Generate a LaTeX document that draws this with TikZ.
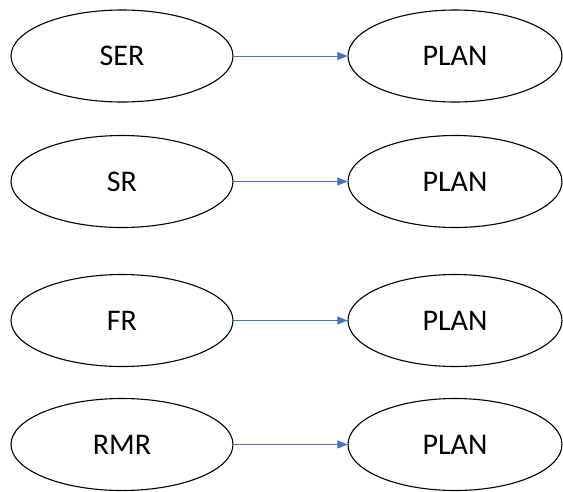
\documentclass[tikz,border=0pt]{standalone}
\usepackage{fontspec}
\setmainfont{Carlito}
\usetikzlibrary{shapes.geometric,arrows.meta}
\definecolor{linkblue}{RGB}{68,114,196}
\tikzset{
  src/.style={ellipse, draw=black, line width=1.1pt, minimum width=222pt, minimum height=92pt, inner sep=0pt, font=\fontsize{30}{34}\selectfont},
  dst/.style={ellipse, draw=black, line width=1.1pt, minimum width=214pt, minimum height=92pt, inner sep=0pt, font=\fontsize{30}{34}\selectfont},
  link/.style={draw=linkblue, line width=0.8pt, -{Triangle[length=10pt,width=8pt]}}
}
\begin{document}
\begin{tikzpicture}[x=1pt,y=-1pt]
\useasboundingbox (0,0) rectangle (563,491);
\node[src] (s1) at (122,56) {SER};
\node[dst] (p1) at (455,56) {PLAN};
\node[src] (s2) at (122,181.5) {SR};
\node[dst] (p2) at (455,181.5) {PLAN};
\node[src] (s3) at (122,320.5) {FR};
\node[dst] (p3) at (455,320.5) {PLAN};
\node[src] (s4) at (122,444.5) {RMR};
\node[dst] (p4) at (455,444.5) {PLAN};
\draw[link] (s1) -- (p1);
\draw[link] (s2) -- (p2);
\draw[link] (s3) -- (p3);
\draw[link] (s4) -- (p4);
\end{tikzpicture}
\end{document}
